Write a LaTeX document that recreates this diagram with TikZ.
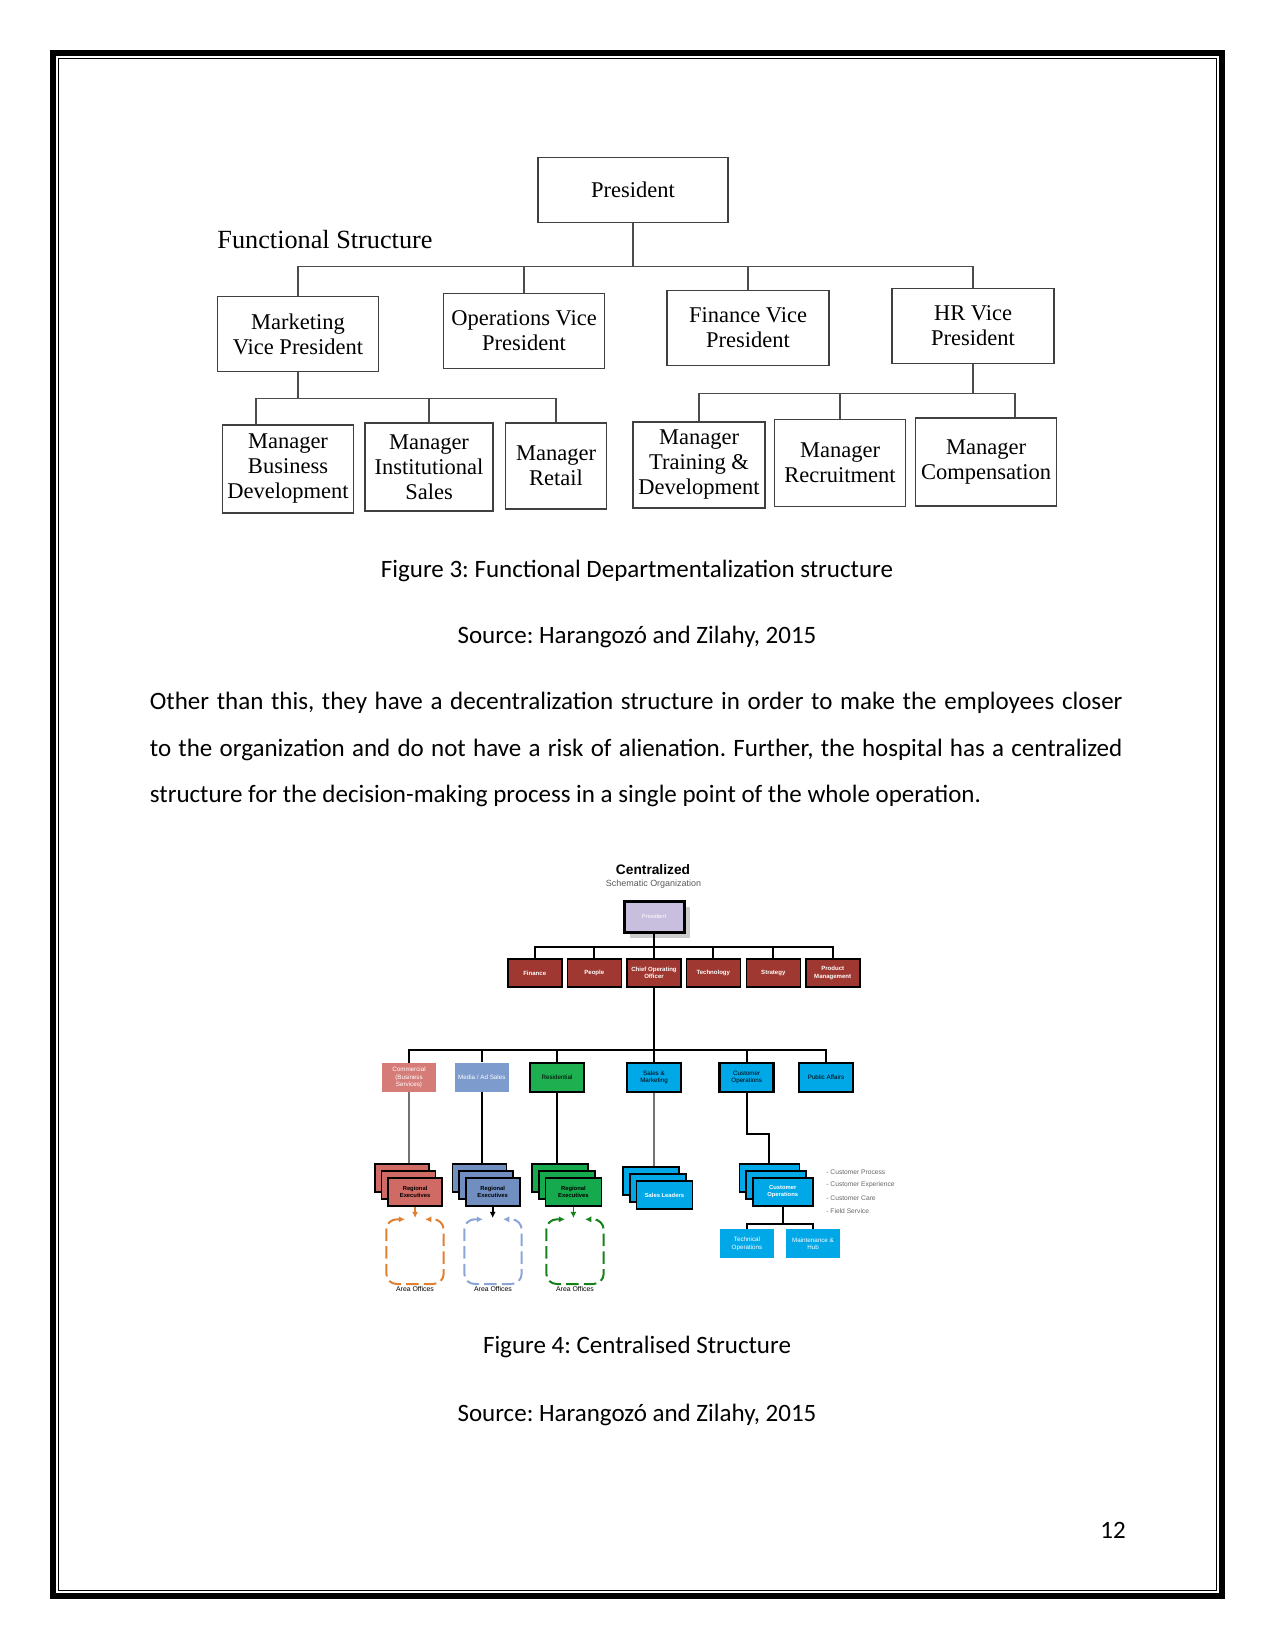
\documentclass[tikz,border=0pt]{standalone}
\usepackage{fontspec}
\setmainfont{Carlito}
\newfontfamily\bookfont{Liberation Serif}
\newfontfamily\arialfont{Liberation Sans}
\usetikzlibrary{arrows.meta,shadows}

\newdimen\pxl \pxl=0.48pt
\definecolor{deptred}{RGB}{158,56,48}
\definecolor{lav}{RGB}{200,190,222}
\definecolor{comred}{RGB}{214,124,120}
\definecolor{medblue}{RGB}{125,155,205}
\definecolor{resgreen}{RGB}{30,175,80}
\definecolor{ccyan}{RGB}{0,168,232}
\definecolor{regred}{RGB}{208,106,100}
\definecolor{regblue}{RGB}{112,142,192}
\definecolor{reggreen}{RGB}{22,170,78}
\definecolor{aorange}{RGB}{226,128,50}
\definecolor{ablue}{RGB}{140,165,215}
\definecolor{agreen}{RGB}{20,130,25}

\begin{document}
\frenchspacing
\begin{tikzpicture}[x=0.48pt, y=-0.48pt,
  bodytext/.style={font=\fontsize{12}{14.4}\selectfont\frenchspacing, inner sep=0},
  funcbox/.style 2 args={draw=black!75, line width=0.7pt, align=center, inner sep=1pt,
    minimum width=#1\pxl, minimum height=#2\pxl, font=\bookfont\fontsize{10.8}{12}\selectfont},
  funcline/.style={draw=black!70, line width=0.7pt},
  presbox/.style={fill=lav, draw=black, line width=3\pxl, minimum width=60\pxl, minimum height=31\pxl,
    text=white, font=\arialfont\fontsize{2.8}{3.2}\selectfont,
    drop shadow={shadow xshift=3pt, shadow yshift=-3pt, fill=black!20, opacity=1}},
  deptbox/.style={fill=deptred, draw=black, line width=1.6\pxl, minimum width=54\pxl, minimum height=28\pxl,
    inner sep=0.5pt, align=center, text=white, font=\arialfont\bfseries\fontsize{2.9}{3.6}\selectfont},
  unitbox/.style={fill=#1, minimum width=54\pxl, minimum height=29\pxl, inner sep=0.5pt, align=center,
    font=\arialfont\fontsize{3}{3.7}\selectfont},
  heavy/.style={draw=black, line width=2.7\pxl},
  card/.style 2 args={fill=#1, draw=black, line width=1.6\pxl, minimum width=#2\pxl, minimum height=28\pxl,
    inner sep=0.5pt, align=center, font=\arialfont\bfseries\fontsize{2.8}{3.4}\selectfont},
  orgline/.style={draw=black, line width=2\pxl},
  greyline/.style={draw=black!55, line width=1.2\pxl},
  arealine/.style={draw=#1, line width=2\pxl, dash pattern=on 6pt off 2.5pt, rounded corners=5pt},
  tinytext/.style={font=\arialfont\fontsize{3.3}{4}\selectfont, inner sep=0}]

  \useasboundingbox (0,0) rectangle (1275,1651);

  % page frame
  \draw[line width=6\pxl] (53,53) rectangle (1221.5,1596);
  \draw[line width=1.4\pxl] (58.5,58.5) rectangle (1216.5,1590.5);

  % ---- functional structure ----
  \node[funcbox={190}{65}] (pres) at (633,190) {President};
  \node[font=\bookfont\fontsize{12.6}{14}\selectfont] (ftitle) at (325,240) {Functional Structure};
  \node[funcbox={161}{75}] (mkt) at (298,334) {Marketing\\Vice President};
  \node[funcbox={161}{75}] (ops) at (524,331) {Operations Vice\\President};
  \node[funcbox={162}{75}] (fin) at (748,328) {Finance Vice\\President};
  \node[funcbox={162}{75}] (hr) at (973,326) {HR Vice\\President};
  \node[funcbox={131}{88}] (bdev) at (288,469) {Manager\\Business\\Development};
  \node[funcbox={128}{88}] (isal) at (429,467) {Manager\\Institutional\\Sales};
  \node[funcbox={101}{86}] (rtl) at (556,466) {Manager\\Retail};
  \node[funcbox={132}{86}] (trd) at (699,465) {Manager\\Training \&\\Development};
  \node[funcbox={131}{87}] (rcr) at (840,463) {Manager\\Recruitment};
  \node[funcbox={141}{88}] (cmp) at (986,462) {Manager\\Compensation};

  \foreach \n in {mkt,ops,fin,hr}
    \draw[funcline] (pres.south) -- ++(0,43.5) -| (\n.north);
  \draw[funcline] (mkt.south) -- ++(0,26.5) -| ([xshift=-15.4pt]bdev.north);
  \foreach \n in {isal,rtl}
    \draw[funcline] (mkt.south) -- ++(0,26.5) -| (\n.north);
  \draw[funcline] (hr.south) -- ++(0,29.5) -| ([xshift=13.9pt]cmp.north);
  \foreach \n in {trd,rcr}
    \draw[funcline] (hr.south) -- ++(0,29.5) -| (\n.north);

  % captions and text
  \node[bodytext] (cap1) at (637,570.5) {Figure 3: Functional Departmentalization structure};
  \node[bodytext] (src1) at (637,637) {Source: Harangozó and Zilahy, 2015};
  \node[bodytext, anchor=west] (par1) at (149.5,703)
    {\makebox[466.8pt][s]{Other than this, they have a decentralization structure in order to make the employees closer}};
  \node[bodytext, anchor=west] (par2) at (149.5,749.5)
    {\makebox[466.8pt][s]{to the organization and do not have a risk of alienation. Further, the hospital has a centralized}};
  \node[bodytext, anchor=west] (par3) at (149.5,796)
    {structure for the decision-making process in a single point of the whole operation.};

  % ---- centralized structure ----
  \node[font=\arialfont\bfseries\fontsize{6.6}{8}\selectfont, inner sep=0] (ctitle) at (653,869.6) {Centralized};
  \node[font=\arialfont\fontsize{4.3}{5}\selectfont, text=black!65, inner sep=0] (csub) at (653.5,884) {Schematic Organization};
  \node[presbox] (cpres) at (654,916.5) {President};

  \foreach \x/\nm/\lab in {534.7/cfin/Finance, 594.3/cppl/People, 654/ccoo/{Chief Operating\\Officer},
      713.3/ctech/Technology, 773.3/cstrat/Strategy, 832.7/cprod/{Product\\Management}}
    \node[deptbox] (\nm) at (\x,973) {\lab};
  \foreach \nm in {cfin,cppl,ccoo,ctech,cstrat,cprod}
    \draw[orgline] (cpres.south) -- ++(0,13.5) -| (\nm.north);

  \node[unitbox=comred, text=white] (ucom) at (409,1077.5) {Commercial\\(Business\\Services)};
  \node[unitbox=medblue, text=white] (umed) at (481.8,1077.2) {Media / Ad Sales};
  \node[unitbox=resgreen, heavy] (ures) at (557,1077.5) {Residential};
  \node[unitbox=ccyan, heavy] (usal) at (654,1077.5) {Sales \&\\Marketing};
  \node[unitbox=ccyan, heavy] (ucops) at (746.7,1077.5) {Customer\\Operations};
  \node[unitbox=ccyan, heavy] (upub) at (826,1077.5) {Public Affairs};
  \foreach \nm in {ucom,umed,ures,usal,ucops,upub}
    \draw[orgline] (ccoo.south) -- ++(0,62.3) -| (\nm.north);

  % stacked cards
  \foreach \nm/\bx/\by/\w/\col/\tc/\txt in {
      rcom/401.7/1178/54/regred/black/{Regional\\Executives},
      rmed/479.3/1178/54/regblue/black/{Regional\\Executives},
      rres/560/1178/56/reggreen/black/{Regional\\Executives},
      sled/651/1181/56/ccyan/white/{Sales Leaders},
      cops/769.3/1178/60/ccyan/white/{Customer\\Operations}}
  {
    \node[card={\col}{\w}] (\nm0) at (\bx,\by) {};
    \node[card={\col}{\w}] (\nm1) at ({\bx+6.7},{\by+7}) {};
    \node[card={\col}{\w}, text=\tc] (\nm) at ({\bx+13.4},{\by+14}) {\txt};
  }
  \draw[greyline] (ucom.south) -- (ucom.south |- rcom0.north);
  \draw[orgline] (umed.south) -- (umed.south |- rmed0.north);
  \draw[orgline] (ures.south) -- (ures.south |- rres0.north);
  \draw[greyline] (usal.south) -- (usal.south |- sled0.north);
  \draw[orgline] (ucops.south) -- ++(0,41) -| (cops0.north);

  \foreach \t/\i in {Customer Process/0, Customer Experience/1, Customer Care/2, Field Service/3}
    \node[anchor=west, font=\arialfont\fontsize{3.2}{4}\selectfont, text=black!60, inner sep=0] (bl\i) at (826,{1171.7+13*\i}) {- \t};

  \node[unitbox=ccyan, text=white] (tops) at (747,1243.8) {Technical\\Operations};
  \node[unitbox=ccyan, text=white] (mhub) at (813,1243.8) {Maintenance \&\\Hub};
  \foreach \nm in {tops,mhub}
    \draw[orgline] (cops.south) -- ++(0,16.7) -| (\nm.north);

  % area offices
  \foreach \nm/\cx/\col/\ac in {com/415/aorange/aorange, med/493/ablue/black, res/575/agreen/agreen}
  {
    \coordinate (a\nm) at (\cx,1218);
    \draw[draw=\ac, line width=1.6\pxl, -{Latex[length=3pt,width=3pt]}] (r\nm.south) -- (r\nm.south |- a\nm);
    \draw[arealine=\col, {Latex[length=3pt,width=3pt]}-{Latex[length=3pt,width=3pt]}]
      ({\cx-10},1219.3) -- ({\cx-28.7},1219.3) -- ({\cx-28.7},1284) -- ({\cx+28.7},1284)
      -- ({\cx+28.7},1219.3) -- ({\cx+10},1219.3);
    \node[tinytext] (ao\nm) at (\cx,1289.3) {Area Offices};
  }

  \node[bodytext] (cap2) at (637,1347) {Figure 4: Centralised Structure};
  \node[bodytext] (src2) at (637,1414.5) {Source: Harangozó and Zilahy, 2015};
  \node[bodytext] (pnum) at (1113,1530) {12};
\end{tikzpicture}
\end{document}
